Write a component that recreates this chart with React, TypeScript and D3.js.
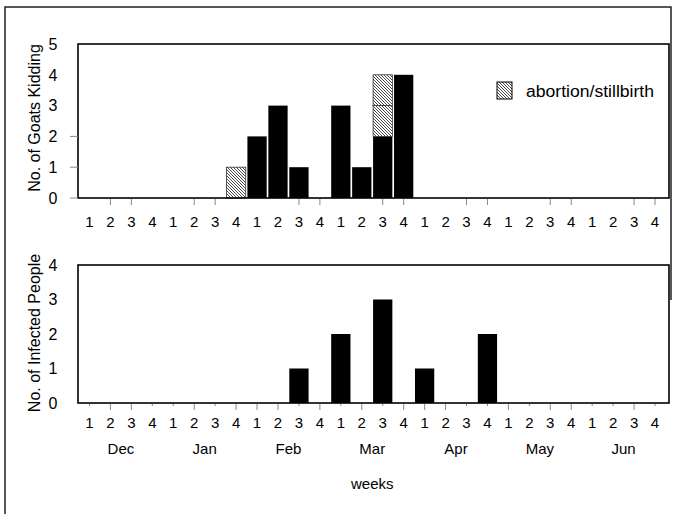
import React from "react";
import * as d3 from "d3";

// weekly counts, Dec..Jun, 4 weeks per month
const months = ["Dec", "Jan", "Feb", "Mar", "Apr", "May", "Jun"];
const weekLabels = months.flatMap(() => ["1", "2", "3", "4"]);

const kiddingNormal = [
  0, 0, 0, 0, 0, 0, 0, 0, 2, 3, 1, 0, 3, 1, 2, 4, 0, 0, 0, 0, 0, 0, 0, 0, 0, 0, 0, 0,
];
const kiddingAbortion = [
  0, 0, 0, 0, 0, 0, 0, 1, 0, 0, 0, 0, 0, 0, 2, 0, 0, 0, 0, 0, 0, 0, 0, 0, 0, 0, 0, 0,
];
const infected = [
  0, 0, 0, 0, 0, 0, 0, 0, 0, 0, 1, 0, 2, 0, 3, 0, 1, 0, 0, 2, 0, 0, 0, 0, 0, 0, 0, 0,
];

const goatTicks = [0, 1, 2, 3, 4, 5];
const peopleTicks = [0, 1, 2, 3, 4];
// tick marks under the axes (scan shows only some of them)
const goatXTicks = [1, 2, 5, 6, 10, 11, 14, 15, 18, 19, 22, 23, 26, 27];
const peopleXTicks = [1, 2, 5, 7, 8, 9, 11, 13, 15, 16, 17, 20, 22, 23, 26];

const W = 678;
const H = 514;
const left = 78;
const right = 669;
const font = "'Liberation Sans', Arial, sans-serif";

const App: React.FC = () => {
  const idx = weekLabels.map((_, i) => String(i));
  const x = d3.scaleBand().domain(idx).range([79, 665.5]).paddingInner(0.08).paddingOuter(0.04);
  const cx = (i: number) => (x(String(i)) as number) + x.bandwidth() / 2;

  const yTop = d3.scaleLinear().domain([0, 5]).range([198, 44]);
  const yBot = d3.scaleLinear().domain([0, 4]).range([403, 265]);

  const segs: { i: number; lo: number; hi: number; hatch: boolean }[] = [];
  kiddingNormal.forEach((v, i) => {
    if (v > 0) segs.push({ i, lo: 0, hi: v, hatch: false });
    for (let k = 0; k < kiddingAbortion[i]; k++) {
      segs.push({ i, lo: v + k, hi: v + k + 1, hatch: true });
    }
  });

  return (
    <svg
      width={W}
      height={H}
      style={{ position: "absolute", left: 0, top: 0, background: "#fff" }}
      fontFamily={font}
    >
      <defs>
        <pattern id="hatch" patternUnits="userSpaceOnUse" width="3" height="3">
          <rect width="3" height="3" fill="#fff" />
          <path d="M-1,-1 L4,4 M-1,2 L1,4 M2,-1 L4,1" stroke="#333" strokeWidth="0.9" />
        </pattern>
      </defs>

      {/* outer frame */}
      <path d="M5,520 L5,7 L671,7 L671,300" fill="none" stroke="#222" strokeWidth={1.5} />

      {/* ---------- top panel ---------- */}
      <g>
        {segs.map((s, k) => (
          <rect
            key={k}
            x={x(String(s.i))}
            y={yTop(s.hi)}
            width={x.bandwidth()}
            height={yTop(s.lo) - yTop(s.hi)}
            fill={s.hatch ? "url(#hatch)" : "#000"}
            stroke={s.hatch ? "#333" : "none"}
            strokeWidth={s.hatch ? 0.8 : 0}
          />
        ))}
        <rect x={left} y={44} width={right - left} height={198 - 44} fill="none" stroke="#000" strokeWidth={1.6} />
        <line x1={70} x2={left} y1={198} y2={198} stroke="#888" />
        {goatTicks.filter((t) => t > 0 && t < 3).map((t) => (
          <line key={t} x1={70} x2={left} y1={yTop(t)} y2={yTop(t)} stroke="#888" />
        ))}
        {goatTicks.map((t) => (
          <text key={t} x={53} y={yTop(t)} dy="0.36em" textAnchor="middle" fontSize={16}>
            {t}
          </text>
        ))}
        {goatXTicks.map((i) => (
          <line key={i} x1={cx(i)} x2={cx(i)} y1={199} y2={205} stroke="#888" />
        ))}
        {weekLabels.map((w, i) => (
          <text key={i} x={cx(i)} y={222} dy="0.36em" textAnchor="middle" fontSize={15}>
            {w}
          </text>
        ))}
        <text transform="translate(34,118) rotate(-90)" textAnchor="middle" dy="0.36em" fontSize={16}>
          No. of Goats Kidding
        </text>
        {/* legend */}
        <rect x={497} y={82} width={15} height={17} fill="url(#hatch)" stroke="#000" strokeWidth={1} />
        <text x={526} y={91} dy="0.36em" fontSize={16} textLength={128} lengthAdjust="spacingAndGlyphs">
          abortion/stillbirth
        </text>
      </g>

      {/* ---------- bottom panel ---------- */}
      <g>
        {infected.map((v, i) =>
          v > 0 ? (
            <rect
              key={i}
              x={x(String(i))}
              y={yBot(v)}
              width={x.bandwidth()}
              height={yBot(0) - yBot(v)}
              fill="#000"
            />
          ) : null,
        )}
        <rect x={left} y={265} width={right - left} height={403 - 265} fill="none" stroke="#000" strokeWidth={1.6} />
        {peopleTicks.map((t) => (
          <text key={t} x={53} y={yBot(t)} dy="0.36em" textAnchor="middle" fontSize={16}>
            {t}
          </text>
        ))}
        {weekLabels.map((_, i) => (
          <line
            key={i}
            x1={cx(i)}
            x2={cx(i)}
            y1={404}
            y2={peopleXTicks.includes(i) ? 410 : 406}
            stroke="#888"
          />
        ))}
        {weekLabels.map((w, i) => (
          <text key={i} x={cx(i)} y={423} dy="0.36em" textAnchor="middle" fontSize={15}>
            {w}
          </text>
        ))}
        {months.map((m, j) => (
          <text key={m} x={(cx(j * 4 + 1) + cx(j * 4 + 2)) / 2} y={449} dy="0.36em" textAnchor="middle" fontSize={15}>
            {m}
          </text>
        ))}
        <text x={(cx(13) + cx(14)) / 2} y={484} dy="0.36em" textAnchor="middle" fontSize={15}>
          weeks
        </text>
        <text transform="translate(34,333) rotate(-90)" textAnchor="middle" dy="0.36em" fontSize={16}>
          No. of Infected People
        </text>
      </g>
    </svg>
  );
};

export default App;
